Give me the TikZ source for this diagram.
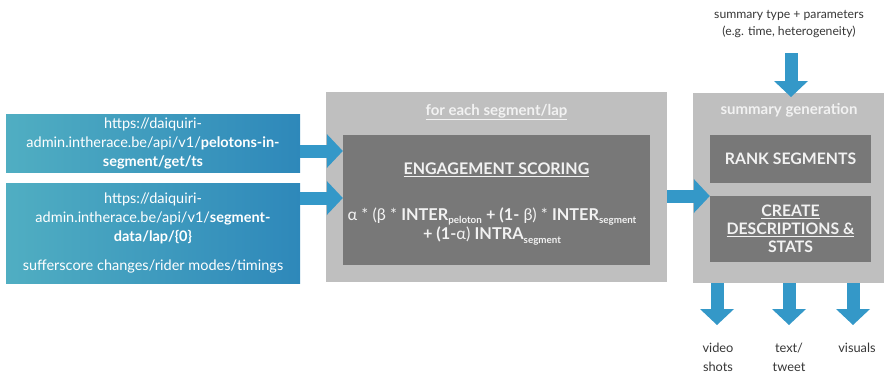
\documentclass[tikz,border=0pt]{standalone}
\usepackage{fontspec}
\setmainfont{Lato}
\usetikzlibrary{arrows.meta}
\definecolor{blueL}{RGB}{80,174,194}
\definecolor{blueR}{RGB}{46,136,186}
\definecolor{arrowc}{RGB}{52,152,200}
\definecolor{outerg}{RGB}{191,191,191}
\definecolor{innerg}{RGB}{120,120,120}
\definecolor{lighttxt}{RGB}{242,242,242}
\definecolor{darktxt}{RGB}{55,55,55}
\newcommand\lowsub[1]{\raisebox{-0.45ex}{\fontsize{9.8}{9.8}\selectfont\bfseries #1}}
\begin{document}
\begin{tikzpicture}[x=1pt,y=-1pt,
  srcbox/.style={rectangle, inner sep=0pt, minimum width=294pt, shading=axis,
    left color=blueL, right color=blueR, text=white, align=center,
    font=\fontsize{14.5}{19}\selectfont},
  outerbox/.style={rectangle, inner sep=0pt, fill=outerg},
  innerbox/.style={rectangle, inner sep=0pt, fill=innerg, text=lighttxt, align=center},
  lighttitle/.style={text=lighttxt, font=\fontsize{15}{17}\selectfont\bfseries},
  bigarrow/.style={line width=13pt, draw=arrowc, -{Triangle[width=34pt,length=16pt,line width=0pt]}},
  label/.style={text=darktxt, align=center, font=\fontsize{12.8}{19}\selectfont}
]
\useasboundingbox (0,0) rectangle (885,373);

% source boxes
\node[srcbox, minimum height=58pt] (b1) at (153,143)
  {https://daiquiri-\\admin.intherace.be/api/v1/\textbf{pelotons-in-}\\\textbf{segment/get/ts}};
\node[srcbox, minimum height=100pt] (b2) at (153,233)
  {https://daiquiri-\\admin.intherace.be/api/v1/\textbf{segment-}\\\textbf{data/lap/\{0\}}\\[10pt]sufferscore changes/rider modes/timings};

% middle block
\node[outerbox, minimum width=341pt, minimum height=190pt] (outer) at (496.5,187) {};
\node[lighttitle] (outt) at (496.5,112) {\underline{for each segment/lap}};
\node[innerbox, minimum width=307pt, minimum height=130pt] (inner) at (496.5,200) {};
\node[text=lighttxt, font=\fontsize{16}{19}\selectfont\bfseries] (eng) at (496.5,170) {\underline{ENGAGEMENT SCORING}};
\node[text=lighttxt, align=center, font=\fontsize{16.3}{16}\selectfont] (form) at (492,226)
  {α * (β * \textbf{INTER}\lowsub{peloton} \textbf{+ (1-} β) * \textbf{INTER}\lowsub{segment}\\
   \textbf{+ (1-}α) \textbf{INTRA}\lowsub{segment}};

% right block
\node[outerbox, minimum width=191pt, minimum height=190pt] (gen) at (788.5,188) {};
\node[lighttitle] (gent) at (789,110) {summary generation};
\node[innerbox, minimum width=161pt, minimum height=48pt, font=\fontsize{15.8}{18}\selectfont\bfseries] (rank) at (790.5,159) {RANK SEGMENTS};
\node[innerbox, minimum width=161pt, minimum height=66pt, font=\fontsize{15.8}{18}\selectfont\bfseries] (create) at (790.5,229)
  {\underline{CREATE}\\\underline{DESCRIPTIONS \&}\\STATS};

% top label and arrow
\node[text=darktxt, align=center, font=\fontsize{12.2}{17}\selectfont] (param) at (789,24)
  {summary type + parameters\\(e.g. time, heterogeneity)};
\coordinate (ptop) at (791,53);
\coordinate (pend) at (791,97);
\draw[bigarrow] (ptop) -- (pend);

% arrows into the middle block
\draw[bigarrow] ([yshift=-8pt]b1.east) -- ([yshift=-8pt]b1.east -| inner.west);
\draw[bigarrow] ([yshift=35pt]b2.east) -- ([yshift=35pt]b2.east -| inner.west);

% arrow middle -> right
\coordinate (mout) at (667,196);
\draw[bigarrow] (mout) -- (mout -| rank.west);

% outputs
\node[label] (o1) at (718,357) {video\\shots};
\node[label] (o2) at (789,357) {text/\\tweet};
\node[label] (o3) at (857,348) {visuals};
\draw[bigarrow] (717,283) -- (717,325);
\draw[bigarrow] (789,283) -- (789,325);
\draw[bigarrow] (853,283) -- (853,325);
\end{tikzpicture}
\end{document}
